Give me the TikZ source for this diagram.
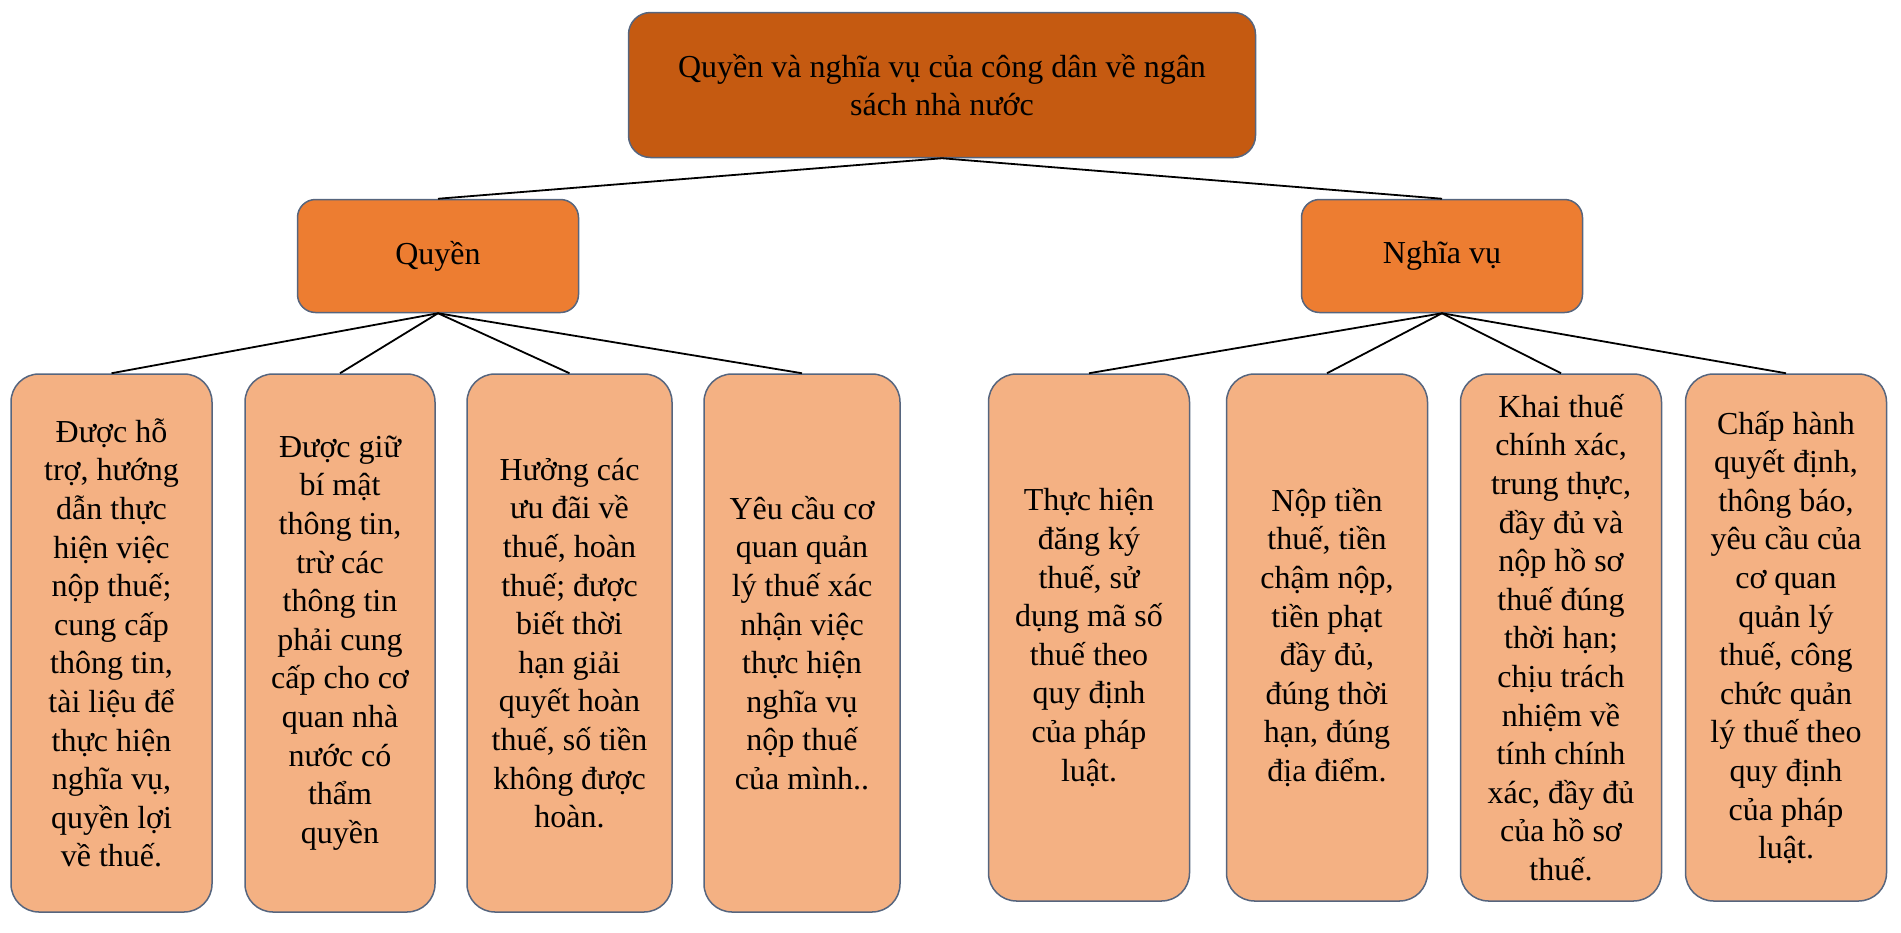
\documentclass[tikz,border=0pt]{standalone}
\usepackage{fontspec}
\setmainfont{Liberation Serif}
\definecolor{topfill}{HTML}{C55A11}
\definecolor{midfill}{HTML}{ED7D31}
\definecolor{leaffill}{HTML}{F4B183}
\definecolor{edgecol}{HTML}{56657E}
\tikzset{
  x=0.5pt, y=-0.5pt,
  basebox/.style={draw=edgecol, line width=0.75pt, inner sep=0pt, align=center,
    font=\fontsize{16}{19.3}\selectfont, text=black},
  topbox/.style={basebox, fill=topfill, rounded corners=11pt, minimum width=313.5pt, minimum height=72.5pt},
  midbox/.style={basebox, fill=midfill, rounded corners=9pt, minimum width=140.5pt, minimum height=56.5pt},
  leafbox/.style={basebox, fill=leaffill, rounded corners=14pt, minimum width=100.5pt},
  leafL/.style={leafbox, minimum height=269pt},
  leafR/.style={leafbox, minimum height=263.5pt},
  link/.style={draw=black, line width=0.9pt},
}
\begin{document}
\begin{tikzpicture}
\useasboundingbox (0,0) rectangle (1901,932);
\node[topbox] (root) at (942,85) {Quyền và nghĩa vụ của công dân về ngân\\sách nhà nước};
\node[midbox] (q) at (438,256) {Quyền};
\node[midbox] (n) at (1442,256) {Nghĩa vụ};

\node[leafL] (a1) at (111.5,643) {Được hỗ\\trợ, hướng\\dẫn thực\\hiện việc\\nộp thuế;\\cung cấp\\thông tin,\\tài liệu để\\thực hiện\\nghĩa vụ,\\quyền lợi\\về thuế.};
\node[leafL, minimum width=95pt] (a2) at (340,643) {Được giữ\\bí mật\\thông tin,\\trừ các\\thông tin\\phải cung\\cấp cho cơ\\quan nhà\\nước có\\thẩm\\quyền};
\node[leafL, minimum width=102.5pt] (a3) at (569.5,643) {Hưởng các\\ưu đãi về\\thuế, hoàn\\thuế; được\\biết thời\\hạn giải\\quyết hoàn\\thuế, số tiền\\không được\\hoàn.};
\node[leafL, minimum width=98pt] (a4) at (802,643) {Yêu cầu cơ\\quan quản\\lý thuế xác\\nhận việc\\thực hiện\\nghĩa vụ\\nộp thuế\\của mình..};

\node[leafR] (b1) at (1089,637.5) {Thực hiện\\đăng ký\\thuế, sử\\dụng mã số\\thuế theo\\quy định\\của pháp\\luật.};
\node[leafR] (b2) at (1327,637.5) {Nộp tiền\\thuế, tiền\\chậm nộp,\\tiền phạt\\đầy đủ,\\đúng thời\\hạn, đúng\\địa điểm.};
\node[leafR] (b3) at (1561,637.5) {Khai thuế\\chính xác,\\trung thực,\\đầy đủ và\\nộp hồ sơ\\thuế đúng\\thời hạn;\\chịu trách\\nhiệm về\\tính chính\\xác, đầy đủ\\của hồ sơ\\thuế.};
\node[leafR] (b4) at (1786,637.5) {Chấp hành\\quyết định,\\thông báo,\\yêu cầu của\\cơ quan\\quản lý\\thuế, công\\chức quản\\lý thuế theo\\quy định\\của pháp\\luật.};

\draw[link] (root.south) -- (q.north);
\draw[link] (root.south) -- (n.north);
\foreach \c in {a1,a2,a3,a4} \draw[link] (q.south) -- (\c.north);
\foreach \c in {b1,b2,b3,b4} \draw[link] (n.south) -- (\c.north);
\end{tikzpicture}
\end{document}
